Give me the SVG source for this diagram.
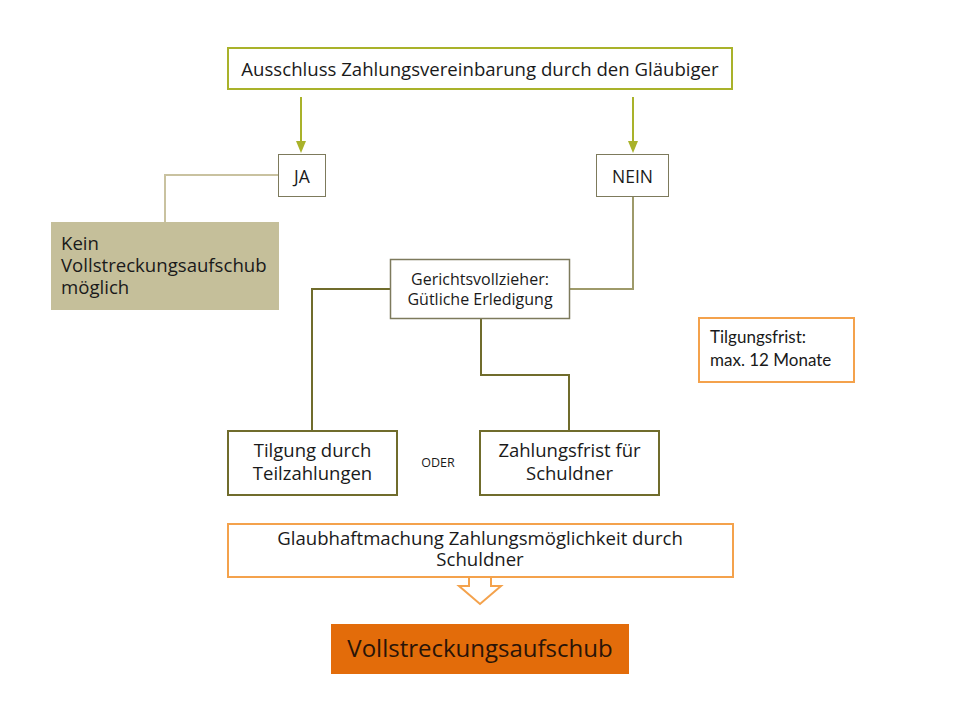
<svg xmlns="http://www.w3.org/2000/svg" width="960" height="720" viewBox="0 0 960 720">
<style>
text{font-family:"Open Sans","Noto Sans","DejaVu Sans",sans-serif;fill:#1a1a1a}
.c{text-anchor:middle}
.olive{fill:#fff;stroke:#706c2c;stroke-width:2}
.thin{fill:#fff;stroke:#7d7a5c;stroke-width:1}
.or{fill:#fff;stroke:#f4a24c;stroke-width:2}
.cal{font-family:Lato,"Open Sans",sans-serif}
</style>
<rect width="960" height="720" fill="#fff"/>
<g id="connectors" fill="none">
<line x1="301" y1="97" x2="301" y2="142" stroke="#a9b22a" stroke-width="2"/>
<path d="M296,141 L306,141 L301,153 Z" fill="#a9b22a"/>
<line x1="633" y1="97" x2="633" y2="142" stroke="#a9b22a" stroke-width="2"/>
<path d="M628,141 L638,141 L633,153 Z" fill="#a9b22a"/>
<path d="M278,175 H165 V222" stroke="#c9c2a0" stroke-width="2"/>
<path d="M633,196 V289 H569" stroke="#9e9a6a" stroke-width="2"/>
<path d="M390,289 H312 V430" stroke="#706c2c" stroke-width="2"/>
<path d="M481,318 V375 H569 V430" stroke="#706c2c" stroke-width="2"/>
<path d="M469,577 V586 H459 L480,604 L501,586 H491 V577" stroke="#f4a24c" stroke-width="2" fill="#fff"/>
</g>
<g id="top">
<rect x="228" y="48" width="504" height="41" fill="#fff" stroke="#a9b22a" stroke-width="2"/>
<text x="480" y="76" class="c" font-size="18.6">Ausschluss Zahlungsvereinbarung durch den Gläubiger</text>
</g>
<g id="ja">
<rect x="278.5" y="154.5" width="47" height="42" class="thin"/>
<text x="302" y="183" class="c" font-size="17.5">JA</text>
</g>
<g id="nein">
<rect x="596.5" y="154.5" width="72" height="42" class="thin"/>
<text x="632.5" y="183" class="c" font-size="17.5">NEIN</text>
</g>
<g id="kein">
<rect x="51" y="222" width="228" height="88" fill="#c5bf9a"/>
<text x="61" y="250" font-size="18.6">Kein</text>
<text x="61" y="272" font-size="18.6">Vollstreckungsaufschub</text>
<text x="61" y="294" font-size="18.6">möglich</text>
</g>
<g id="gericht">
<rect x="390.5" y="259.5" width="179" height="59" fill="#fff" stroke="#7d7a5c" stroke-width="1.5"/>
<text x="480" y="285" class="c" font-size="16">Gerichtsvollzieher:</text>
<text x="480" y="305" class="c" font-size="16">Gütliche Erledigung</text>
</g>
<g id="tilgungsfrist">
<rect x="699" y="318" width="155" height="64" class="or"/>
<text x="710" y="343" font-size="17" class="cal">Tilgungsfrist:</text>
<text x="710" y="366" font-size="17" class="cal">max. 12 Monate</text>
</g>
<g id="teilzahlungen">
<rect x="228" y="431" width="169" height="64" class="olive"/>
<text x="312.5" y="457" class="c" font-size="18.5">Tilgung durch</text>
<text x="312.5" y="480" class="c" font-size="18.5">Teilzahlungen</text>
</g>
<g id="oder">
<text x="438" y="467" class="c" font-size="12.5">ODER</text>
</g>
<g id="zahlungsfrist">
<rect x="480" y="431" width="179" height="64" class="olive"/>
<text x="569.5" y="457" class="c" font-size="18.5">Zahlungsfrist für</text>
<text x="569.5" y="480" class="c" font-size="18.5">Schuldner</text>
</g>
<g id="glaubhaft">
<rect x="228" y="524" width="505" height="53" class="or"/>
<text x="480" y="545" class="c" font-size="18.6">Glaubhaftmachung Zahlungsmöglichkeit durch</text>
<text x="480" y="566" class="c" font-size="18.6">Schuldner</text>
</g>
<g id="vollstreckungsaufschub">
<rect x="331" y="624" width="298" height="50" fill="#e36c0a"/>
<text x="480" y="657" class="c" font-size="24" style="fill:#2a1408">Vollstreckungsaufschub</text>
</g>
</svg>
